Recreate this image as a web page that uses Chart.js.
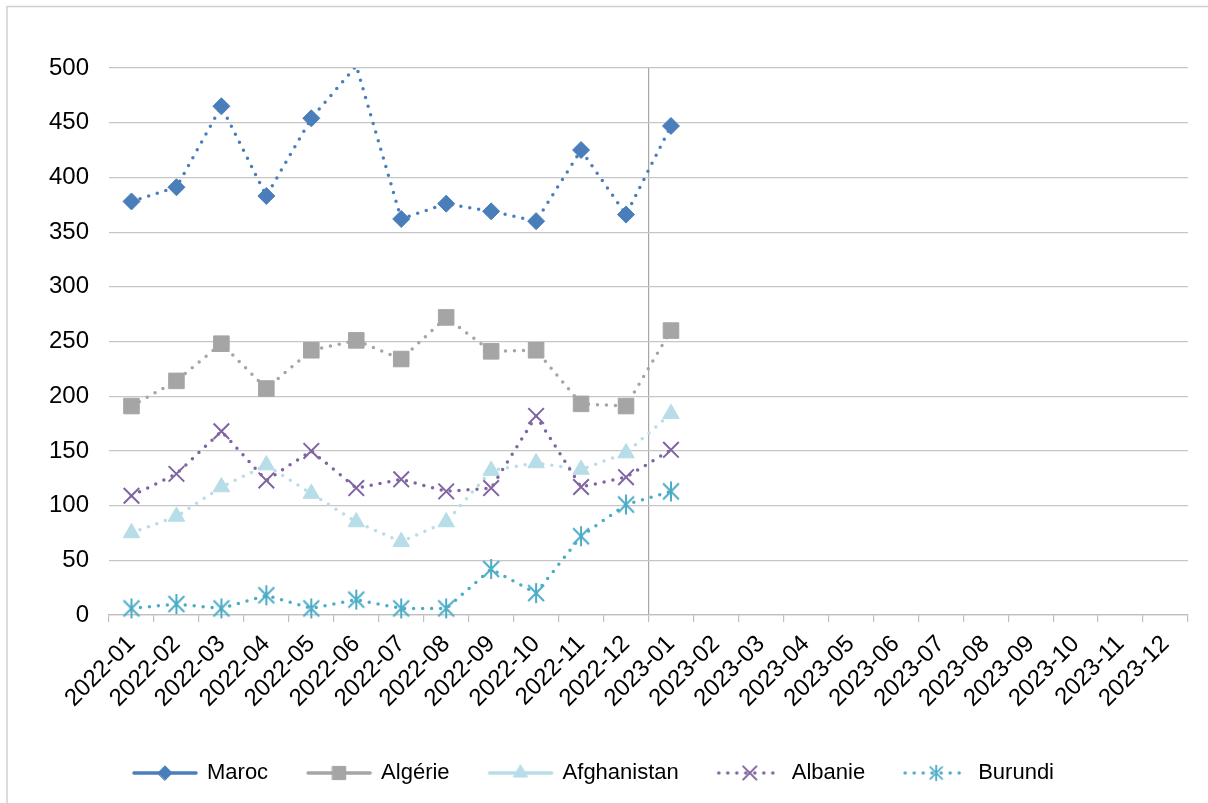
<!DOCTYPE html>
<html>
<head>
<meta charset="utf-8">
<script src="https://cdn.jsdelivr.net/npm/chart.js@4.4.0/dist/chart.umd.min.js"></script>
<style>
    html, body { margin: 0; padding: 0; background: #fff; }
    #wrap { width: 1208px; height: 803px; position: relative; }
</style>
</head>
<body>
<div id="wrap"><canvas id="myChart" width="1208" height="803"></canvas></div>
<script>
const months = ['2022-01', '2022-02', '2022-03', '2022-04', '2022-05', '2022-06', '2022-07', '2022-08',
    '2022-09', '2022-10', '2022-11', '2022-12', '2023-01', '2023-02', '2023-03', '2023-04', '2023-05',
    '2023-06', '2023-07', '2023-08', '2023-09', '2023-10', '2023-11', '2023-12'];
const maroc = [378, 391, 465, 383, 454, 502, 362, 376, 369, 360, 425, 366, 447];
const algerie = [191, 214, 248, 207, 242, 251, 234, 272, 241, 242, 193, 191, 260];
const afghanistan = [75, 90, 117, 137, 111, 85, 67, 85, 132, 139, 133, 148, 184];
const albanie = [109, 129, 168, 123, 150, 116, 124, 113, 116, 182, 117, 126, 151];
const burundi = [6, 10, 6, 18, 6, 14, 6, 6, 42, 20, 72, 101, 113];
const yTicks = [0, 50, 100, 150, 200, 250, 300, 350, 400, 450, 500];

const FONT = "'Liberation Sans', Arial, sans-serif";

// Excel-like asterisk marker (X plus vertical bar)
function asterisk(color, size) {
    const c = document.createElement('canvas');
    c.width = size; c.height = size;
    const g = c.getContext('2d');
    const m = size / 2, a = size * 0.36;
    g.strokeStyle = color;
    g.lineWidth = 2;
    g.beginPath();
    g.moveTo(m - a, m - a); g.lineTo(m + a, m + a);
    g.moveTo(m + a, m - a); g.lineTo(m - a, m + a);
    g.moveTo(m, 1); g.lineTo(m, size - 1);
    g.stroke();
    return c;
}

const series = [
    { label: 'Maroc', data: maroc, color: '#4a7ebb', style: 'rectRot', radius: 8.5, solidLegend: true },
    { label: 'Algérie', data: algerie, color: '#a5a5a5', style: 'rect', radius: 11, solidLegend: true },
    { label: 'Afghanistan', data: afghanistan, color: '#b7dde8', style: 'triangle', radius: 9.5, solidLegend: true },
    { label: 'Albanie', data: albanie, color: '#8064a2', style: 'crossRot', radius: 11, solidLegend: false },
    { label: 'Burundi', data: burundi, color: '#4bacc6', style: null, radius: 11, solidLegend: false }
];
series[4].style = asterisk(series[4].color, 22);

// little line+marker pictures for the legend
function legendImage(s) {
    const c = document.createElement('canvas');
    c.width = 68; c.height = 24;
    const g = c.getContext('2d');
    g.strokeStyle = s.color;
    g.fillStyle = s.color;
    g.lineCap = 'round';
    g.lineWidth = 3.5;
    if (!s.solidLegend) g.setLineDash([0, 9]);
    g.beginPath();
    g.moveTo(3, 12); g.lineTo(65, 12);
    g.stroke();
    g.setLineDash([]);
    g.lineWidth = s.style === 'crossRot' ? 2 : 1;
    if (typeof s.style === 'string') {
        Chart.helpers.drawPoint(g, { pointStyle: s.style, radius: s.radius * 0.85, rotation: 0, borderWidth: g.lineWidth }, 34, 12);
    } else {
        g.drawImage(s.style, 34 - 9, 12 - 9, 18, 18);
    }
    return c;
}

const bgPlugin = {
    id: 'bg',
    beforeDraw(chart) {
        const ctx = chart.ctx;
        ctx.save();
        ctx.fillStyle = '#fff';
        ctx.fillRect(0, 0, chart.width, chart.height);
        ctx.strokeStyle = '#d0d0d0';
        ctx.lineWidth = 1.5;
        ctx.beginPath();
        ctx.moveTo(7, 820); ctx.lineTo(7, 6.5); ctx.lineTo(1230, 6.5);
        ctx.stroke();
        ctx.restore();
    }
};

const ctx = document.getElementById('myChart').getContext('2d');
const myChart = new Chart(ctx, {
    type: 'line',
    data: {
        labels: months,
        datasets: series.map((s, i) => ({
            label: s.label,
            data: s.data,
            borderColor: s.color,
            backgroundColor: s.color,
            borderWidth: 3.5,
            borderDash: [0, 9],
            borderCapStyle: 'round',
            pointStyle: s.style,
            pointRadius: c => (c.raw > 500 ? 0 : s.radius),
            pointBorderWidth: s.style === 'crossRot' ? 2 : 1,
            pointBackgroundColor: s.color,
            pointBorderColor: s.color,
            tension: 0,
            fill: false,
            clip: i === 0 ? { top: 0, left: 20, right: 20, bottom: 20 } : 20,
            order: 5 - i
        }))
    },
    options: {
        responsive: false,
        animation: false,
        devicePixelRatio: 1,
        layout: { padding: { left: 0, right: 20, top: 68, bottom: 9 } },
        plugins: {
            tooltip: { enabled: false },
            legend: {
                position: 'bottom',
                labels: {
                    usePointStyle: true,
                    pointStyleWidth: 62,
                    padding: 40,
                    color: '#000',
                    font: { family: FONT, size: 22 },
                    generateLabels: chart => series.map((s, i) => ({
                        text: s.label,
                        pointStyle: legendImage(s),
                        fillStyle: s.color,
                        strokeStyle: s.color,
                        lineWidth: 0,
                        hidden: false,
                        datasetIndex: i
                    }))
                }
            }
        },
        scales: {
            x: {
                offset: true,
                grid: {
                    offset: true,
                    color: c => (c.index === 12 ? '#a6a6a6' : 'rgba(0,0,0,0)'),
                    lineWidth: 1.2,
                    tickColor: '#bfbfbf',
                    tickLength: 7,
                    drawTicks: true
                },
                border: { display: true, color: '#bfbfbf', width: 1.2 },
                ticks: {
                    autoSkip: false,
                    minRotation: 45,
                    maxRotation: 45,
                    padding: 8,
                    color: '#000',
                    font: { family: FONT, size: 24 }
                },
                afterFit: scale => { scale.height = 107; }
            },
            y: {
                min: 0,
                max: 500,
                afterBuildTicks: scale => { scale.ticks = yTicks.map(v => ({ value: v })); },
                grid: { color: '#c6c6c6', lineWidth: 1.2, drawTicks: false },
                border: { display: false },
                ticks: {
                    padding: 20,
                    color: '#000',
                    font: { family: FONT, size: 24 }
                },
                afterFit: scale => { scale.width = 109; }
            }
        }
    },
    plugins: [bgPlugin]
});
</script>
</body>
</html>
